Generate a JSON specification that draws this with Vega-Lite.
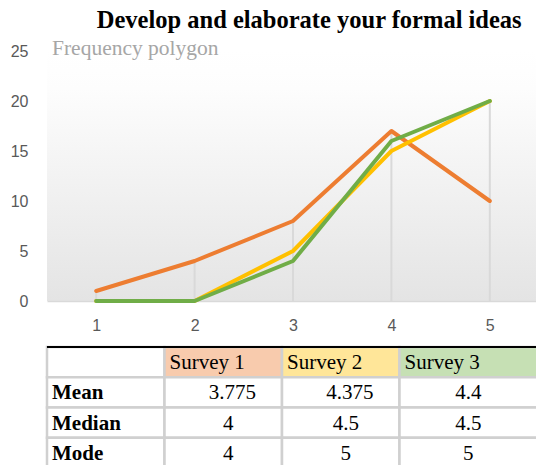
{
  "$schema": "https://vega.github.io/schema/vega-lite/v6.json",
  "padding": {"left": 10, "top": 8, "right": 0, "bottom": 0},
  "background": "white",
  "bounds": "flush",
  "spacing": 46,
  "config": {"view": {"stroke": null}},
  "title": {"text": "Develop and elaborate your formal ideas", "font": "Liberation Serif", "fontSize": 24.5, "fontWeight": "bold", "color": "#000000", "anchor": "middle", "dx": 34, "offset": 4},
  "datasets": {
    "freq": [
      {"series": "Survey 1", "x": 1, "v": 1}, {"series": "Survey 1", "x": 2, "v": 4}, {"series": "Survey 1", "x": 3, "v": 8}, {"series": "Survey 1", "x": 4, "v": 17}, {"series": "Survey 1", "x": 5, "v": 10},
      {"series": "Survey 2", "x": 1, "v": 0}, {"series": "Survey 2", "x": 2, "v": 0}, {"series": "Survey 2", "x": 3, "v": 5}, {"series": "Survey 2", "x": 4, "v": 15}, {"series": "Survey 2", "x": 5, "v": 20},
      {"series": "Survey 3", "x": 1, "v": 0}, {"series": "Survey 3", "x": 2, "v": 0}, {"series": "Survey 3", "x": 3, "v": 4}, {"series": "Survey 3", "x": 4, "v": 16}, {"series": "Survey 3", "x": 5, "v": 20}
    ],
    "table": [
      {"row": "header", "col": "label", "text": ""}, {"row": "header", "col": "Survey 1", "text": "Survey 1"}, {"row": "header", "col": "Survey 2", "text": "Survey 2"}, {"row": "header", "col": "Survey 3", "text": "Survey 3"},
      {"row": "Mean", "col": "label", "text": "Mean"}, {"row": "Mean", "col": "Survey 1", "text": "3.775"}, {"row": "Mean", "col": "Survey 2", "text": "4.375"}, {"row": "Mean", "col": "Survey 3", "text": "4.4"},
      {"row": "Median", "col": "label", "text": "Median"}, {"row": "Median", "col": "Survey 1", "text": "4"}, {"row": "Median", "col": "Survey 2", "text": "4.5"}, {"row": "Median", "col": "Survey 3", "text": "4.5"},
      {"row": "Mode", "col": "label", "text": "Mode"}, {"row": "Mode", "col": "Survey 1", "text": "4"}, {"row": "Mode", "col": "Survey 2", "text": "5"}, {"row": "Mode", "col": "Survey 3", "text": "5"}
    ]
  },
  "vconcat": [
    {
      "width": 492,
      "height": 250,
      "view": {"stroke": null, "fill": {"gradient": "linear", "x1": 0, "y1": 0, "x2": 0, "y2": 1, "stops": [{"offset": 0, "color": "#ffffff"}, {"offset": 0.15, "color": "#fdfdfd"}, {"offset": 1, "color": "#e4e4e4"}]}},
      "title": {"text": "Frequency polygon", "frame": "group", "font": "Liberation Serif", "fontSize": 21.5, "fontWeight": "normal", "color": "#a6a6a6", "anchor": "start", "dx": 5, "offset": -16},
      "data": {"name": "freq"},
      "encoding": {
        "x": {"field": "x", "type": "quantitative", "scale": {"domain": [0.5, 5.5], "nice": false, "zero": false},
              "axis": {"values": [1, 2, 3, 4, 5], "format": "d", "title": null, "grid": false, "ticks": false, "domain": true, "domainColor": "#d9d9d9", "domainWidth": 1.5, "labelFont": "Liberation Sans", "labelFontSize": 16, "labelColor": "#595959", "labelPadding": 16}}
      },
      "layer": [
        {
          "mark": {"type": "rule", "color": "#d9d9d9", "strokeWidth": 2},
          "encoding": {
            "y": {"aggregate": "max", "field": "v", "type": "quantitative", "scale": {"domain": [0, 25], "nice": false},
                  "axis": {"values": [0, 5, 10, 15, 20, 25], "title": null, "grid": false, "ticks": false, "domain": false, "labelFont": "Liberation Sans", "labelFontSize": 16, "labelColor": "#595959", "labelPadding": 19}},
            "y2": {"datum": 0}
          }
        },
        {
          "mark": {"type": "line", "strokeWidth": 4, "strokeJoin": "round", "strokeCap": "round"},
          "encoding": {
            "y": {"field": "v", "type": "quantitative"},
            "color": {"field": "series", "type": "nominal", "scale": {"domain": ["Survey 1", "Survey 2", "Survey 3"], "range": ["#ED7D31", "#FFC000", "#70AD47"]}, "legend": null},
            "order": {"field": "x"}
          }
        }
      ]
    },
    {
      "width": 489,
      "height": 121,
      "data": {"name": "table"},
      "encoding": {
        "x": {"field": "col", "type": "nominal", "scale": {"domain": ["label", "Survey 1", "Survey 2", "Survey 3"], "range": [0, 470], "paddingInner": 0, "paddingOuter": 0}, "axis": null},
        "y": {"field": "row", "type": "nominal", "scale": {"domain": ["header", "Mean", "Median", "Mode"], "paddingInner": 0, "paddingOuter": 0}, "axis": null}
      },
      "layer": [
        {
          "mark": {"type": "rect", "stroke": "#d0d0d0", "strokeWidth": 2.5, "x2Offset": {"expr": "datum.col === 'Survey 3' ? 22 : 0"}},
          "encoding": {
            "x": {"field": "col", "type": "nominal", "bandPosition": 0},
            "x2": {"field": "col", "bandPosition": 1},
            "fill": {"condition": {"test": "datum.row === 'header'", "field": "col", "type": "nominal", "scale": {"domain": ["label", "Survey 1", "Survey 2", "Survey 3"], "range": ["#ffffff", "#F8CBAD", "#FFE699", "#C6E0B4"]}, "legend": null}, "value": "#ffffff"}
          }
        },
        {
          "transform": [{"filter": "datum.row === 'header' && datum.col === 'label'"}],
          "mark": {"type": "rule", "color": "#000000", "strokeWidth": 2},
          "encoding": {"x": null, "y": {"field": "row", "type": "nominal", "bandPosition": 0}}
        },
        {
          "transform": [{"filter": "datum.row === 'header' || datum.col === 'label'"}],
          "mark": {"type": "text", "align": "left", "baseline": "middle", "dx": 5, "dy": 1, "font": "Liberation Serif", "fontSize": 21, "color": "#000000", "fontWeight": {"expr": "datum.col === 'label' ? 'bold' : 'normal'"}},
          "encoding": {
            "x": {"field": "col", "type": "nominal", "bandPosition": 0},
            "text": {"field": "text"}
          }
        },
        {
          "transform": [{"filter": "datum.row !== 'header' && datum.col !== 'label'"}],
          "mark": {"type": "text", "align": "center", "baseline": "middle", "dy": 1, "font": "Liberation Serif", "fontSize": 21, "color": "#000000", "dx": {"expr": "(datum.col === 'Survey 3' ? 10 : 5) + (datum.row === 'Mean' && datum.col !== 'Survey 3' ? 4 : 0)"}},
          "encoding": {
            "x": {"field": "col", "type": "nominal", "bandPosition": 0.5},
            "text": {"field": "text"}
          }
        }
      ]
    }
  ]
}
